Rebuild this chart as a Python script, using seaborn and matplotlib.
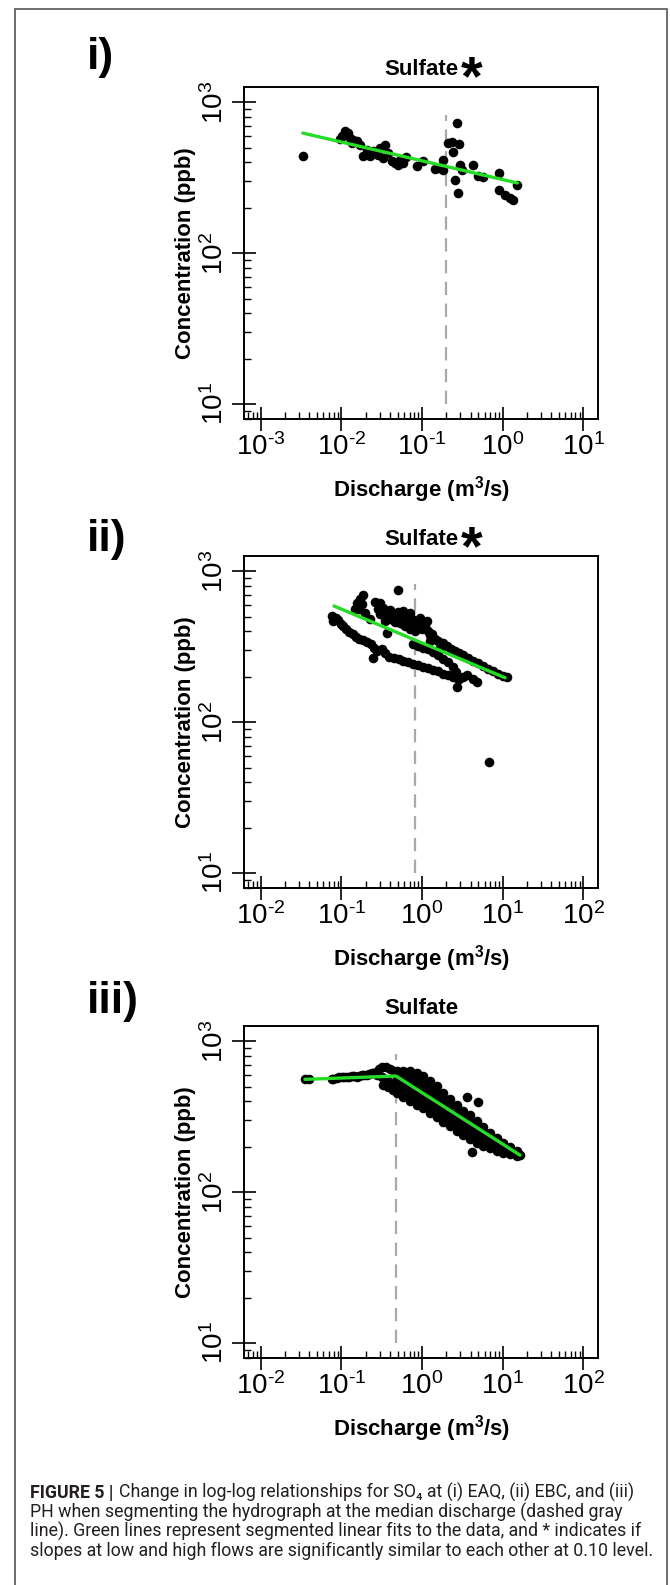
import matplotlib
matplotlib.use('Agg')
import matplotlib.pyplot as plt
import seaborn as sns
from matplotlib.ticker import LogLocator, NullFormatter
from matplotlib.patches import Rectangle

# ---- panel i (EAQ) ----
q_i = [0.00332, 0.0111, 0.0101, 0.0116, 0.0128, 0.0141, 0.0096, 0.0155, 0.0170, 0.0134,
       0.0122, 0.0188, 0.0227, 0.0206, 0.0249, 0.0288, 0.0331, 0.0348, 0.0302, 0.0382,
       0.0420, 0.0462, 0.0509, 0.0534, 0.0633, 0.0587, 0.0859, 0.104, 0.145, 0.180,
       0.184, 0.164, 0.212, 0.233, 0.269, 0.288, 0.245, 0.256, 0.282, 0.296,
       0.310, 0.433, 0.499, 0.576, 0.902, 0.910, 1.07, 1.23, 1.33, 1.52]
c_i = [443, 642, 594, 611, 581, 566, 572, 551, 524, 537,
       627, 438, 438, 486, 473, 450, 427, 524, 498, 461,
       406, 396, 386, 417, 435, 396, 377, 407, 362, 417,
       354, 367, 537, 543, 729, 532, 466, 307, 250, 386,
       358, 386, 327, 320, 340, 261, 244, 232, 226, 284]
fit_q_i = [0.00332, 1.52]
fit_c_i = [626, 292]
median_i = 0.2

# ---- panel ii (EBC) ----
q_ii = [0.0759, 0.0796, 0.0858, 0.0918, 0.0981, 0.106, 0.114, 0.126, 0.138, 0.152,
        0.167, 0.187, 0.206, 0.231, 0.254, 0.245, 0.279, 0.316, 0.348, 0.394,
        0.450, 0.514, 0.587, 0.677, 0.781, 0.901, 1.04, 1.20, 1.38, 1.59,
        1.84, 2.12, 2.40, 2.74, 3.19, 3.58,
        0.187, 0.170, 0.158, 0.148, 0.167, 0.196, 0.227, 0.179,
        0.261, 0.302, 0.287, 0.332, 0.372, 0.421, 0.485, 0.560, 0.646, 0.744,
        0.859, 0.963, 1.09, 0.302, 0.348, 0.401, 0.463, 0.534, 0.616, 0.710,
        0.819, 0.372, 1.20, 1.32, 1.45, 1.59, 1.80, 2.02, 2.27, 2.57,
        2.90, 3.25, 3.75, 4.33, 4.99, 5.76, 6.64, 7.66, 8.84, 10.2, 11.2,
        0.587, 0.710, 0.944, 1.14, 0.990, 1.26, 1.67,
        0.781, 0.901, 1.04, 1.20, 1.38, 1.59, 1.84, 2.12, 2.40, 2.64,
        2.90, 2.69, 4.33, 4.76,
        0.40, 0.50, 0.62, 0.80, 0.35, 0.46, 0.58, 0.72, 0.92, 1.25,
        0.509, 6.8]
c_ii = [505, 468, 493, 475, 445, 434, 412, 396, 382, 369,
        357, 348, 340, 328, 312, 267, 296, 304, 286, 271,
        266, 261, 255, 250, 243, 238, 233, 228, 221, 217,
        210, 205, 200, 196, 200, 204,
        693, 652, 613, 565, 565, 532, 485, 604,
        626, 613, 559, 574, 546, 532, 521, 511, 500, 485,
        471, 456, 434, 518, 500, 485, 468, 452, 434, 416,
        402, 392, 402, 382, 357, 345, 333, 320, 307, 296,
        286, 277, 266, 255, 245, 235, 226, 217, 209, 202, 199,
        546, 532, 493, 468, 412, 345, 312,
        328, 320, 312, 304, 292, 277, 263, 250, 233, 215,
        192, 172, 194, 184,
        555, 535, 505, 470, 470, 460, 450, 440, 420, 380,
        752, 54]
fit_q_ii = [0.0811, 10.7]
fit_c_ii = [589, 197]
median_ii = 0.82

# ---- panel iii (PH) ----
q_iii = [0.0354, 0.0401, 0.0758, 0.0874, 0.1009, 0.1164, 0.1342, 0.1548, 0.1786, 0.2060,
         0.2376, 0.2689, 0.2794, 0.2957, 0.3162, 0.3162, 0.3315, 0.3577, 0.3646, 0.3824,
         0.4011, 0.4206, 0.4411, 0.4496,
         0.0796, 0.0944, 0.1089, 0.1256, 0.1449, 0.1671, 0.1909, 0.2223,
         0.485, 0.485, 0.485, 0.485, 0.485,
         0.587, 0.587, 0.587, 0.587, 0.587,
         0.710, 0.710, 0.710, 0.710, 0.710,
         0.859, 0.859, 0.859, 0.859, 0.859,
         1.04, 1.04, 1.04, 1.04, 1.04,
         1.26, 1.26, 1.26, 1.26, 1.26,
         1.52, 1.52, 1.52, 1.52, 1.52,
         1.84, 1.84, 1.84, 1.84, 1.84,
         2.22, 2.22, 2.22, 2.22, 2.22,
         2.69, 2.69, 2.69, 2.69, 2.69,
         3.25, 3.25, 3.25, 3.25, 3.25,
         3.94, 3.94, 3.94, 3.94, 3.94,
         4.76, 4.76, 4.76, 4.76, 4.76,
         5.76, 5.76, 5.76, 5.76, 5.76,
         6.97, 6.97, 6.97, 6.97, 6.97,
         8.43, 8.43, 8.43, 8.43,
         10.2, 10.2, 10.2,
         12.3, 12.3, 12.3,
         14.9, 14.9, 14.9,
         16.4,
         3.58, 4.99, 4.13]
c_iii = [560, 566, 560, 574, 583, 578, 589, 583, 596, 602,
         614, 627, 599, 653, 680, 583, 514, 673, 555, 496,
         653, 532, 476, 639,
         566, 578, 583, 583, 589, 592, 602, 608,
         639, 583, 532, 488, 452,
         636, 578, 522, 471, 426,
         636, 569, 506, 452, 404,
         620, 549, 486, 430, 378,
         589, 522, 461, 408, 360,
         549, 486, 430, 378, 337,
         506, 448, 398, 354, 313,
         457, 408, 365, 325, 293,
         417, 376, 337, 304, 275,
         376, 342, 309, 279, 256,
         347, 317, 286, 261, 239,
         325, 293, 269, 245, 224,
         298, 272, 248, 227, 213,
         272, 252, 231, 216, 202,
         248, 231, 216, 202, 195,
         227, 216, 202, 188,
         211, 198, 183,
         198, 187, 178,
         188, 179, 174,
         176,
         426, 398, 186]
fit_q_iii = [0.0354, 0.476, 16.4]
fit_c_iii = [560, 589, 176]
median_iii = 0.47

dash_c = [10, 830]
y_ticks = [10, 100, 1000]
y_ticklabels = ['$10^{1}$', '$10^{2}$', '$10^{3}$']
x_ticks_i = [1e-3, 1e-2, 1e-1, 1, 10]
x_ticklabels_i = ['$10^{\u20103}$', '$10^{\u20102}$', '$10^{\u20101}$', '$10^{0}$', '$10^{1}$']
x_ticks_ii = [1e-2, 1e-1, 1, 10, 100]
x_ticklabels_ii = ['$10^{\u20102}$', '$10^{\u20101}$', '$10^{0}$', '$10^{1}$', '$10^{2}$']

caption_bold = 'FIGURE 5 |'
caption_lines = [
    'Change in log-log relationships for SO\u2084 at (i) EAQ, (ii) EBC, and (iii)',
    'PH when segmenting the hydrograph at the median discharge (dashed gray',
    'line). Green lines represent segmented linear fits to the data, and * indicates if',
    'slopes at low and high flows are significantly similar to each other at 0.10 level.',
]

sns.set_theme(style='ticks')
plt.rcParams['font.family'] = ['Liberation Sans', 'DejaVu Sans']
plt.rcParams['mathtext.fontset'] = 'custom'
plt.rcParams['mathtext.rm'] = 'Liberation Sans'
plt.rcParams['mathtext.bf'] = 'Liberation Sans:bold'
plt.rcParams['mathtext.it'] = 'Liberation Sans:italic'
plt.rcParams['mathtext.default'] = 'regular'

W, H = 670, 1585
fig = plt.figure(figsize=(W / 100, H / 100), dpi=100)


def fx(x):
    return x / W


def fy(y):
    return 1 - y / H


panels = [
    dict(q=q_i, c=c_i, fq=fit_q_i, fc=fit_c_i, med=median_i, xt=x_ticks_i, xl=x_ticklabels_i,
         xlim=(10 ** -3.207, 10 ** 1.186), bottom=419, tag='i)', tag_y=57, title_y=67, star=True),
    dict(q=q_ii, c=c_ii, fq=fit_q_ii, fc=fit_c_ii, med=median_ii, xt=x_ticks_ii, xl=x_ticklabels_ii,
         xlim=(10 ** -2.207, 10 ** 2.186), bottom=888, tag='ii)', tag_y=540, title_y=537, star=True),
    dict(q=q_iii, c=c_iii, fq=fit_q_iii, fc=fit_c_iii, med=median_iii, xt=x_ticks_ii, xl=x_ticklabels_ii,
         xlim=(10 ** -2.207, 10 ** 2.186), bottom=1358, tag='iii)', tag_y=1001, title_y=1006, star=False),
]

box_h = 331.7
for p in panels:
    ax = fig.add_axes([fx(244), fy(p['bottom']), (598.3 - 244) / W, box_h / H])
    ax.set_xscale('log')
    ax.set_yscale('log')
    ax.plot([p['med'], p['med']], dash_c, color='#a9a9a9', lw=1.6, dashes=(6, 3.8), zorder=2)
    sns.scatterplot(x=p['q'], y=p['c'], ax=ax, color='black', s=48, linewidth=0, zorder=3)
    sns.lineplot(x=p['fq'], y=p['fc'], ax=ax, color='#26dc26', lw=2.4, sort=False,
                 estimator=None, zorder=4)
    ax.set_xlim(*p['xlim'])
    ax.set_ylim(10 ** 0.9, 10 ** 3.1)
    ax.set_xticks(p['xt'], labels=p['xl'])
    ax.set_yticks(y_ticks, labels=y_ticklabels)
    for axis in (ax.xaxis, ax.yaxis):
        axis.set_minor_locator(LogLocator(base=10, subs=range(2, 10), numticks=50))
        axis.set_minor_formatter(NullFormatter())
    ax.tick_params(which='major', direction='inout', length=17, width=1.2, color='black',
                   labelsize=20, pad=2, labelcolor='black')
    ax.tick_params(which='minor', direction='in', length=5, width=1.0, color='black')
    ax.tick_params(axis='y', labelrotation=90)
    for lab in ax.get_yticklabels():
        lab.set_va('center')
    for s in ax.spines.values():
        s.set_visible(True)
        s.set_color('black')
        s.set_linewidth(1.4)

    ax.set_xlabel('Discharge (m$^{3}$/s)', fontsize=16, fontweight='bold', color='black')
    ax.xaxis.set_label_coords(0.5, -71 / box_h)
    ax.xaxis.label.set_va('center')
    ax.set_ylabel('Concentration (ppb)', fontsize=16, fontweight='bold', color='black')
    ax.yaxis.set_label_coords(-59 / (598.3 - 244), 0.5)
    ax.yaxis.label.set_va('center')

    fig.text(fx(87), fy(p['tag_y']), p['tag'], fontsize=32, fontweight='bold',
             ha='left', va='center', color='black')
    fig.text(fx(421), fy(p['title_y'] + 8), 'Sulfate', fontsize=16, fontweight='bold',
             ha='center', va='baseline', color='black')
    if p['star']:
        fig.text(fx(472), fy(p['title_y'] - 5 + 32), '*', fontsize=40, fontweight='bold',
                 ha='center', va='baseline', color='black')

# caption, sized so lines 1 and 4 end where the reference lines end
base_y = [1498, 1517.5, 1537, 1556.5]
cap_font = ['Roboto', 'Liberation Sans', 'DejaVu Sans']
t_bold = fig.text(fx(30), fy(base_y[0]), caption_bold, fontsize=12, fontweight='bold',
                  family=cap_font, color='#231f20', ha='left', va='baseline')
cap_texts = [fig.text(fx(30), fy(y), line, fontsize=12, color='#231f20', family=cap_font,
                      ha='left', va='baseline')
             for line, y in zip(caption_lines, base_y)]


def set_caption_size(fs):
    t_bold.set_fontsize(fs)
    for t in cap_texts:
        t.set_fontsize(fs)
    r = fig.canvas.get_renderer()
    wb = t_bold.get_window_extent(r).width
    cap_texts[0].set_x(fx(30 + wb + 0.3 * fs * 100 / 72))
    w1 = cap_texts[0].get_window_extent(r).x1 - 30
    w4 = cap_texts[3].get_window_extent(r).width
    return min(624 / w1, 620 / w4)


fs = 12.0
fig.canvas.draw()
for _ in range(3):
    fs = fs * set_caption_size(fs)
set_caption_size(fs)

# outer frame
fig.add_artist(Rectangle((fx(15), fy(1600)), fx(667) - fx(15), (1600 - 9) / H,
                         transform=fig.transFigure, fill=False, edgecolor='#555555',
                         lw=1.2, clip_on=False))

fig.savefig('out.png', dpi=100)
